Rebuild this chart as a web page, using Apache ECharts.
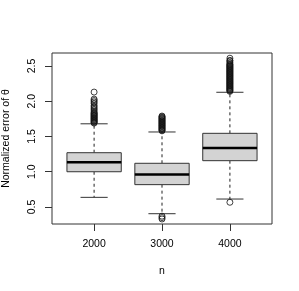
<!DOCTYPE html>
<html><head><meta charset="utf-8">
<script src="https://cdn.jsdelivr.net/npm/echarts@6/dist/echarts.min.js"></script>
<style>html,body{margin:0;padding:0;background:#fff}#c{width:299px;height:291px}</style>
</head><body><div id="c"></div>
<script>
const categories = ['2000', '3000', '4000'];
// [lowerWhisker, q1, median, q3, upperWhisker]
const boxStats = [
  [0.637, 1.00, 1.134, 1.27, 1.68],
  [0.405, 0.817, 0.96, 1.12, 1.564],
  [0.613, 1.157, 1.337, 1.545, 2.127]
];
const outliers2000 = [1.69,1.70,1.71,1.72,1.73,1.74,1.75,1.76,1.77,1.78,1.79,1.80,1.81,1.82,1.83,1.84,1.86,1.88,1.90,1.92,1.94,1.97,1.99,2.01,2.03,2.13];
const outliers3000 = [1.58,1.59,1.60,1.61,1.62,1.63,1.64,1.65,1.66,1.67,1.68,1.69,1.70,1.71,1.72,1.73,1.74,1.75,1.76,1.77,1.78,1.79,0.37,0.35,0.33];
const outliers4000 = [2.14,2.15,2.16,2.17,2.18,2.19,2.20,2.21,2.22,2.23,2.24,2.25,2.26,2.27,2.28,2.29,2.30,2.31,2.32,2.33,2.34,2.35,2.36,2.37,2.38,2.39,2.40,2.41,2.42,2.43,2.44,2.45,2.46,2.47,2.48,2.49,2.50,2.51,2.52,2.53,2.55,2.57,2.58,2.61,0.567];
const yTicks = [0.5, 1.0, 1.5, 2.0, 2.5];

const outlierData = [];
[outliers2000, outliers3000, outliers4000].forEach((arr, i) => arr.forEach(v => outlierData.push([i + 1, v])));
const boxData = boxStats.map((s, i) => [i + 1].concat(s));

const chart = echarts.init(document.getElementById('c'), null, {renderer: 'canvas'});
const font = '"Liberation Sans", Arial, sans-serif';
chart.setOption({
  animation: false,
  grid: {left: 52, right: 27, top: 53, bottom: 67, outerBoundsMode: 'none', containLabel: false, show: true, borderColor: '#333', borderWidth: 1, backgroundColor: 'transparent'},
  xAxis: {
    type: 'value', min: 0.38, max: 3.62,
    name: 'n', nameLocation: 'middle', nameGap: 42,
    nameTextStyle: {fontFamily: font, fontSize: 10.5, color: '#000'},
    splitLine: {show: false}, axisLine: {show: false},
    axisTick: {show: true, length: 7, customValues: [1, 2, 3], lineStyle: {color: '#333'}},
    axisLabel: {customValues: [1, 2, 3], formatter: v => categories[Math.round(v) - 1], margin: 15, fontFamily: font, fontSize: 10.5, color: '#000'}
  },
  yAxis: {
    type: 'value', min: 0.259, max: 2.684,
    name: 'Normalized error of θ', nameLocation: 'middle', nameGap: 40, nameRotate: 90,
    nameTextStyle: {fontFamily: font, fontSize: 10.5, color: '#000'},
    splitLine: {show: false}, axisLine: {show: false},
    axisTick: {show: true, length: 7, customValues: yTicks, lineStyle: {color: '#333'}},
    axisLabel: {customValues: yTicks, rotate: 90, margin: 14, formatter: v => v.toFixed(1), fontFamily: font, fontSize: 10.5, color: '#000'}
  },
  series: [
    {
      type: 'custom',
      data: boxData,
      encode: {x: 0, y: [1, 2, 3, 4, 5]},
      renderItem: function (params, api) {
        const x = api.value(0);
        const w = api.size([0.8, 0])[0];
        const pLo = api.coord([x, api.value(1)]);
        const pQ1 = api.coord([x, api.value(2)]);
        const pMed = api.coord([x, api.value(3)]);
        const pQ3 = api.coord([x, api.value(4)]);
        const pHi = api.coord([x, api.value(5)]);
        const cx = pMed[0];
        const dash = {stroke: '#222', lineWidth: 1, lineDash: [3, 3]};
        const solid = {stroke: '#333', lineWidth: 1};
        return {
          type: 'group',
          children: [
            {type: 'line', shape: {x1: cx, y1: pQ3[1], x2: cx, y2: pHi[1]}, style: dash},
            {type: 'line', shape: {x1: cx, y1: pQ1[1], x2: cx, y2: pLo[1]}, style: dash},
            {type: 'line', shape: {x1: cx - w / 4, y1: pHi[1], x2: cx + w / 4, y2: pHi[1]}, style: solid},
            {type: 'line', shape: {x1: cx - w / 4, y1: pLo[1], x2: cx + w / 4, y2: pLo[1]}, style: solid},
            {type: 'rect', shape: {x: cx - w / 2, y: pQ3[1], width: w, height: pQ1[1] - pQ3[1]}, style: {fill: '#d3d3d3', stroke: '#333', lineWidth: 1}},
            {type: 'line', shape: {x1: cx - w / 2, y1: pMed[1], x2: cx + w / 2, y2: pMed[1]}, style: {stroke: '#000', lineWidth: 2.5}}
          ]
        };
      }
    },
    {
      type: 'scatter',
      data: outlierData,
      symbol: 'circle',
      symbolSize: 6,
      itemStyle: {color: 'rgba(0,0,0,0)', borderColor: '#111', borderWidth: 1}
    }
  ]
});
</script></body></html>
